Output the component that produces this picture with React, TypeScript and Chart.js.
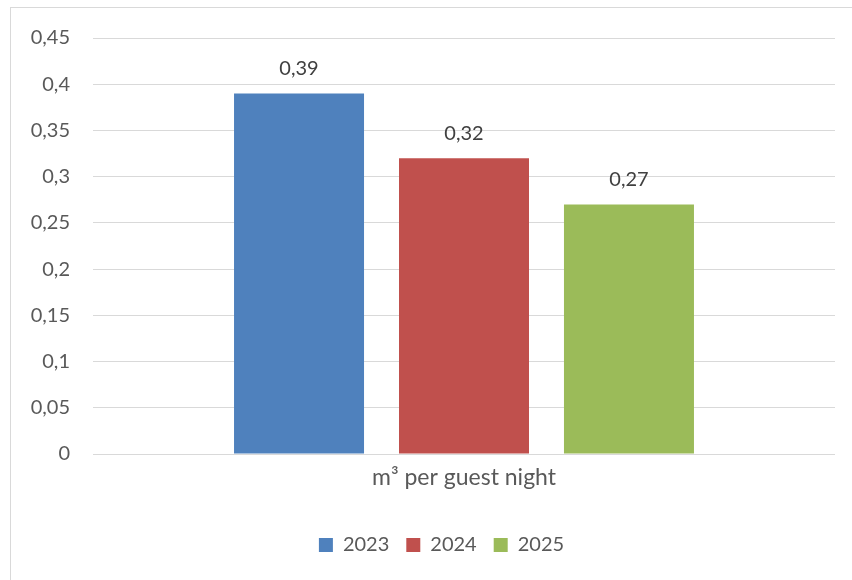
import React, { useEffect, useRef } from "react";
import { Chart, registerables } from "chart.js";

Chart.register(...registerables);

const categories = ["m³ per guest night"];
const seriesNames = ["2023", "2024", "2025"];
const seriesValues = [[0.39], [0.32], [0.27]];
const seriesColors = ["#4F81BD", "#C0504D", "#9BBB59"];
const yTicks = { min: 0, max: 0.45, step: 0.05 };

const FONT = "Lato, 'Open Sans', sans-serif";

function fmt(v: number): string {
  const s = (Math.round(v * 100) / 100).toString();
  return s.replace(".", ",");
}

const dataLabels = {
  id: "dataLabels",
  afterDatasetsDraw(chart: any) {
    const ctx = chart.ctx;
    ctx.save();
    ctx.font = `20px ${FONT}`;
    ctx.fillStyle = "#404040";
    ctx.textAlign = "center";
    ctx.textBaseline = "middle";
    chart.data.datasets.forEach((ds: any, i: number) => {
      const meta = chart.getDatasetMeta(i);
      meta.data.forEach((el: any, j: number) => {
        ctx.fillText(fmt(ds.data[j]), el.x, el.y - 25);
      });
    });
    ctx.restore();
  },
};

// Centre the legend on the chart frame rather than the canvas
const legendShift = {
  id: "legendShift",
  afterLayout(chart: any) {
    const lg = chart.legend;
    if (lg) {
      lg.left += 48;
      lg.width -= 0;
    }
  },
};

export default function App() {
  const ref = useRef<HTMLCanvasElement | null>(null);
  useEffect(() => {
    if (!ref.current) return;
    const chart = new Chart(ref.current, {
      type: "bar",
      data: {
        labels: categories,
        datasets: seriesNames.map((n, i) => ({
          label: n,
          data: seriesValues[i],
          backgroundColor: seriesColors[i],
          borderWidth: 0,
          categoryPercentage: 0.667,
          barPercentage: 0.788,
        })),
      },
      options: {
        animation: false,
        responsive: false,
        maintainAspectRatio: false,
        events: [],
        layout: { padding: { top: 38, right: 17, left: 0, bottom: 15 } },
        plugins: {
          tooltip: { enabled: false },
          legend: {
            position: "bottom",
            labels: {
              boxWidth: 14,
              boxHeight: 14,
              padding: 17,
              color: "#595959",
              font: { family: FONT, size: 20 },
            },
          },
        },
        scales: {
          x: {
            grid: { display: false, drawTicks: false },
            border: { display: false },
            ticks: { color: "#595959", font: { family: FONT, size: 23 }, padding: 10 },
            afterFit: (s: any) => {
              s.height = 64;
            },
          },
          y: {
            min: yTicks.min,
            max: yTicks.max,
            grid: { color: "#d9d9d9", lineWidth: 1, drawTicks: false },
            border: { display: false },
            ticks: {
              stepSize: yTicks.step,
              padding: 23,
              color: "#595959",
              font: { family: FONT, size: 20 },
              callback: (v: any) => fmt(Number(v)),
            },
            afterFit: (s: any) => {
              s.width = 93;
            },
          },
        },
      },
      plugins: [dataLabels, legendShift],
    });
    return () => chart.destroy();
  }, []);
  return (
    <div
      style={{
        position: "absolute",
        left: 0,
        top: 0,
        width: 852,
        height: 580,
        overflow: "hidden",
        background: "#fff",
      }}
    >
      <div
        style={{
          position: "absolute",
          left: 10,
          top: 7,
          width: 900,
          height: 700,
          border: "1px solid #d9d9d9",
        }}
      />
      <canvas ref={ref} width={852} height={580} style={{ position: "absolute", left: 0, top: 0 }} />
    </div>
  );
}
